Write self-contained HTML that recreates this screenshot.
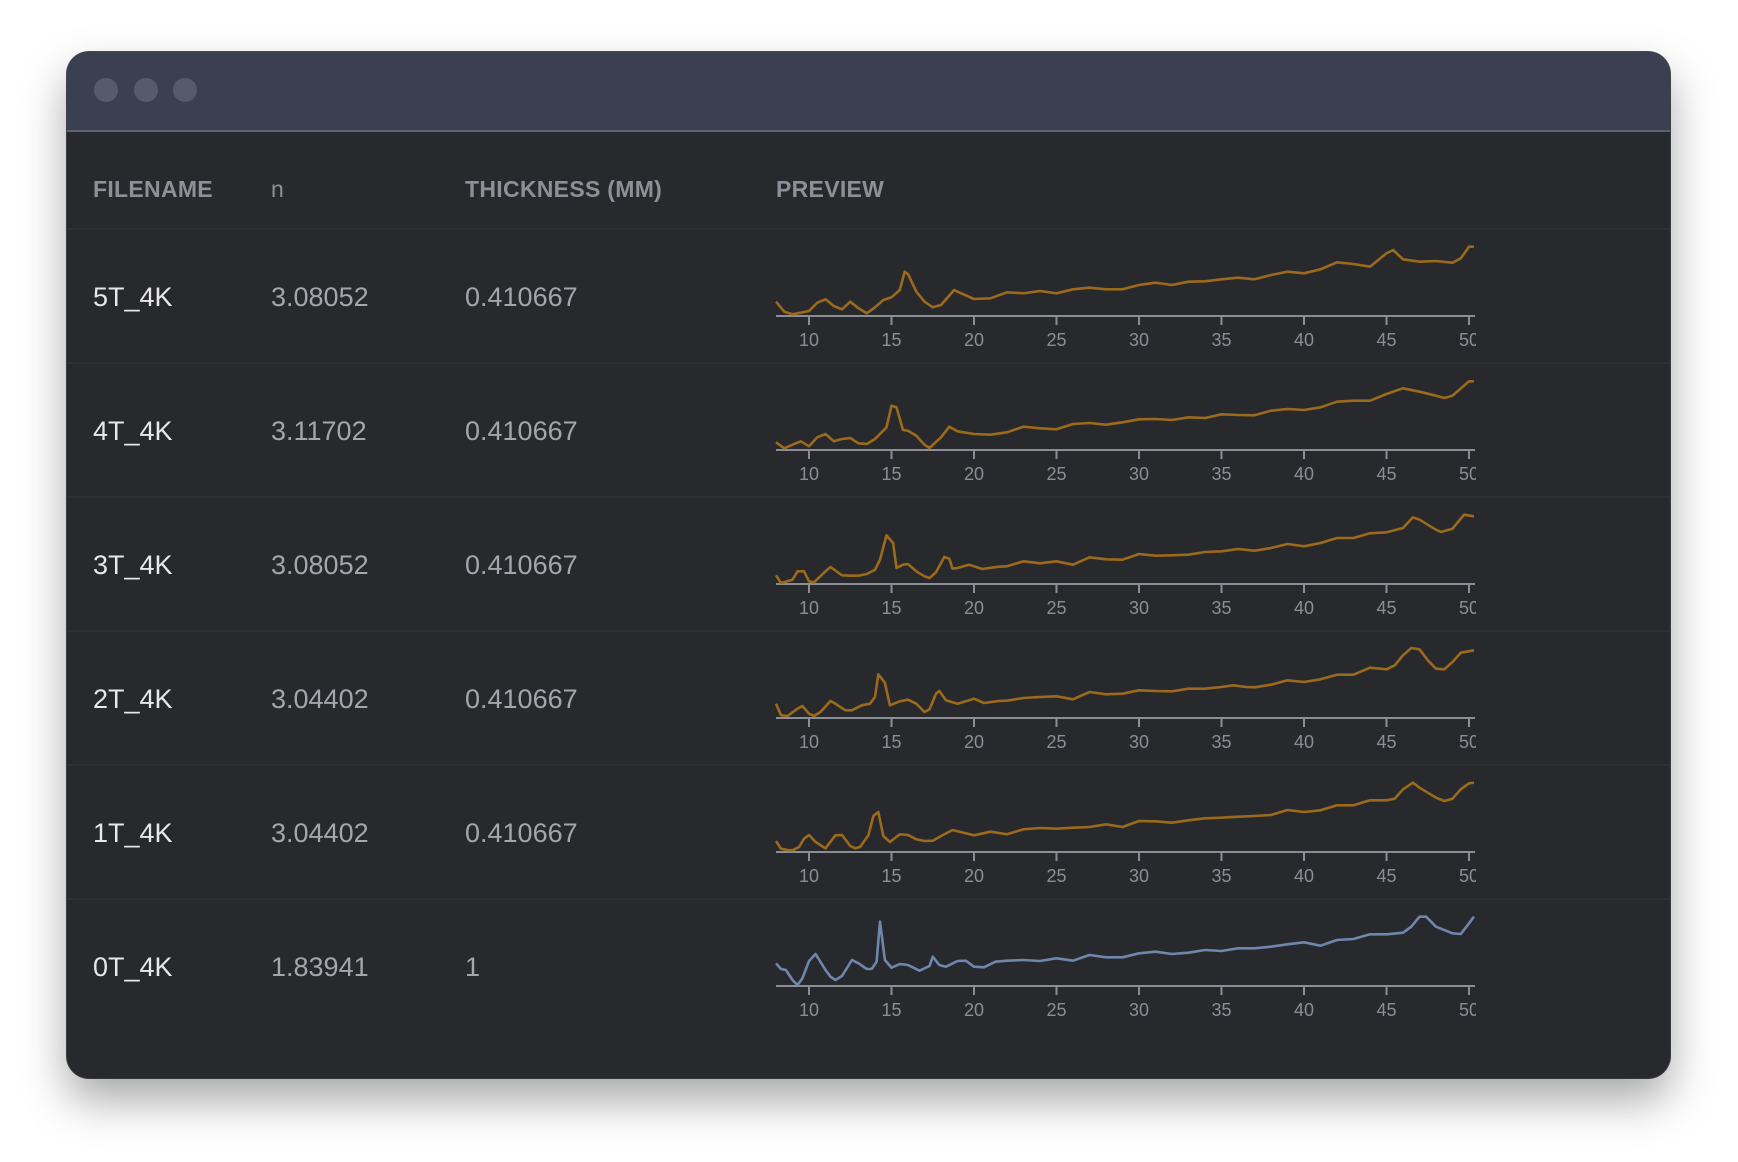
<!DOCTYPE html>
<html><head><meta charset="utf-8">
<style>
html,body{margin:0;padding:0;width:1738px;height:1162px;background:#fff;overflow:hidden;font-family:"Liberation Sans",sans-serif;}
#win{position:absolute;left:67px;top:52px;width:1603px;height:1026px;border-radius:22px;background:#28292c;box-shadow:0 22px 45px rgba(0,0,0,0.35),0 0 0 1px #4a4c52;overflow:hidden;}
#titlebar{position:absolute;left:0;top:0;width:100%;height:78px;background:#3a404f;border-bottom:2px solid #5c6272;}
.dot{position:absolute;top:26px;width:24px;height:24px;border-radius:50%;background:#555b6a;}
.hdr{position:absolute;top:175px;font-size:23px;color:#8c9099;line-height:28px;font-weight:bold;letter-spacing:0.3px;}
.cell{position:absolute;font-size:27px;line-height:32px;color:#a3a6ac;}
.fn{color:#e8e8ea;}
.sep{position:absolute;left:0;width:100%;height:2px;background:#2f3034;}
svg{position:absolute;left:0;top:0;}
</style></head><body>
<div id="win">
  <div id="titlebar">
    <div class="dot" style="left:27px"></div>
    <div class="dot" style="left:67px"></div>
    <div class="dot" style="left:106px"></div>
  </div>
</div>
<div class="hdr" style="left:93px">FILENAME</div>
<div class="hdr" style="left:271px;font-weight:normal">n</div>
<div class="hdr" style="left:465px">THICKNESS (MM)</div>
<div class="hdr" style="left:776px">PREVIEW</div>
<div id="rows"></div>
<svg id="charts" width="1738" height="1162"></svg>
<script>
const names = ["5T_4K","4T_4K","3T_4K","2T_4K","1T_4K","0T_4K"];
const nVals = ["3.08052","3.11702","3.08052","3.04402","3.04402","1.83941"];
const thick = ["0.410667","0.410667","0.410667","0.410667","0.410667","1"];
const tickLabels = [10,15,20,25,30,35,40,45,50];
// raw readings: y-pixel in zoom space (axis = 288); value = 288 - reading
const x5 = [8,8.5,9,9.5,10,10.5,11,11.5,12,12.5,13,13.5,14,14.5,15,15.5,15.8,16,16.5,17,17.5,18,18.8,19,20,21,22,23,24,25,26,27,28,29,30,31,32,33,34,35,36,37,38,39,40,41,42,43,44,45,45.4,46,47,48,49,49.5,50,50.3];
const r5 = [245,275,283,278,273,248,238,258,268,245,265,280,262,240,232,210,155,162,215,245,262,255,210,215,237,235,217,220,213,220,208,203,208,208,195,188,195,185,184,178,173,178,165,155,160,148,127,132,140,100,90,118,125,123,128,115,80,80];
const x4 = [8,8.5,9,9.5,10,10.5,11,11.5,12,12.5,13,13.5,14,14.5,14.7,15,15.3,15.7,16,16.5,17,17.3,18,18.5,19,20,21,22,23,24,25,26,27,28,29,30,31,32,33,34,35,36,37,38,39,40,41,42,43,44,45,46,47,48,48.5,49,50,50.3];
const r4 = [265,283,272,262,277,250,240,262,255,252,268,270,255,230,220,155,160,228,230,245,272,282,250,218,232,240,242,235,218,223,226,210,207,212,205,196,195,198,190,192,181,183,184,170,165,168,160,143,140,140,120,103,113,125,132,125,82,82];
const x3 = [8,8.3,9,9.3,9.7,10,10.3,11,11.3,12,12.5,13,13.5,14,14.3,14.7,15.1,15.3,15.7,16,16.5,17,17.3,17.7,18.2,18.5,18.7,19,19.7,20.5,21.5,22,23,24,25,26,27,28,29,30,31,32,33,34,35,36,37,38,39,40,41,42,43,44,45,46,46.6,47,48,48.3,49,49.7,50.3];
const r3 = [262,285,275,250,250,280,283,250,237,262,263,263,258,245,215,142,165,240,230,228,250,265,270,253,207,212,242,240,230,243,236,235,220,226,220,230,208,214,215,198,203,202,200,192,190,183,188,180,168,175,165,150,150,136,133,120,88,95,125,132,122,80,85];
const x2 = [8,8.3,8.7,9.3,9.6,10,10.3,10.7,11.3,11.6,12.2,12.6,13.2,13.7,14,14.2,14.6,14.9,15.5,16,16.5,17,17.3,17.7,17.9,18.3,19,20,20.6,21.5,22,23,24,25,26,27,28,29,30,31,32,33,34,35,35.7,36.5,37,38,39,40,41,42,43,44,45,45.5,46,46.5,47,47.5,48,48.5,49,49.5,50.3];
const r2 = [245,280,282,260,252,275,282,270,237,245,265,265,250,245,225,157,182,250,238,233,245,270,262,215,207,235,245,230,243,237,236,228,225,223,232,210,217,215,205,207,208,200,200,195,190,195,196,188,175,180,172,158,158,137,142,130,100,78,82,115,140,142,120,92,85];
const x1 = [8,8.3,8.7,9,9.4,9.7,10,10.4,11,11.6,12,12.5,12.8,13.1,13.6,13.9,14.2,14.5,14.9,15.5,16,16.5,17,17.5,18,18.7,19,20,21,22,23,24,25,26,27,28,29,30,31,32,33,34,35,36,37,38,39,40,41,42,43,44,45,45.5,46,46.6,47,48,48.5,49,49.5,50,50.3];
const r1 = [255,278,282,283,273,248,237,258,277,238,237,270,277,273,238,180,168,240,258,235,237,250,255,254,240,222,226,238,227,235,220,216,218,215,213,205,213,195,196,200,193,187,185,182,180,177,162,168,163,148,148,133,133,128,100,80,95,125,135,128,100,82,80];
const x0 = [8,8.3,8.6,9,9.3,9.6,10,10.4,11,11.3,11.6,12,12.6,13,13.5,13.8,14.1,14.3,14.6,15,15.5,16,16.7,17.3,17.5,17.9,18.3,19,19.5,20,20.6,21.3,22,23,24,25,26,27,28,29,30,31,32,33,34,35,36,37,38,39,40,41,42,43,44,45,46,46.5,47,47.4,48,49,49.5,50,50.3];
const r0 = [220,237,240,270,285,265,213,192,240,260,270,258,210,220,237,237,215,95,210,233,222,225,242,228,200,225,230,213,212,230,232,215,212,210,213,205,212,195,202,202,190,185,192,188,180,183,175,175,170,163,157,167,150,147,133,133,128,110,80,80,110,130,132,100,80];
const seriesX = [x5,x4,x3,x2,x1,x0];
const seriesR = [r5,r4,r3,r2,r1,r0];
const colors = ["#9c6a1c","#9c6a1c","#9c6a1c","#9c6a1c","#9c6a1c","#6f86ad"];

const rowsEl = document.getElementById('rows');
const svg = document.getElementById('charts');
const NS = "http://www.w3.org/2000/svg";
const ROW0 = 228, ROWH = 134;
function xs(v){ return 776 + (v - 8) * 16.5; }
function ys(v, axisY){ return axisY - v / 3; }
for (let i = 0; i < names.length; i++) {
  const top = ROW0 + ROWH * i;
  const sep = document.createElement('div');
  sep.className = 'sep';
  sep.style.cssText = 'left:67px;width:1603px;top:' + top + 'px';
  
  
  rowsEl.appendChild(sep);
  const cols = [[names[i], 93, 'cell fn', 'filename-cell'], [nVals[i], 271, 'cell', 'n-cell'], [thick[i], 465, 'cell', 'thickness-cell']];
  for (const c of cols) {
    const d = document.createElement('div');
    d.className = c[2];
    d.textContent = c[0];
    d.style.left = c[1] + 'px';
    d.style.top = (top + 53) + 'px';
    
    
    rowsEl.appendChild(d);
  }
  const axisY = top + 88;
  const g = document.createElementNS(NS, 'g');
  
  
  const ax = document.createElementNS(NS, 'line');
  ax.setAttribute('x1', 776); ax.setAttribute('x2', 1475);
  ax.setAttribute('y1', axisY); ax.setAttribute('y2', axisY);
  ax.setAttribute('stroke', '#8a8e97'); ax.setAttribute('stroke-width', 2);
  
  
  g.appendChild(ax);
  for (const t of tickLabels) {
    const tl = document.createElementNS(NS, 'line');
    tl.setAttribute('x1', xs(t)); tl.setAttribute('x2', xs(t));
    tl.setAttribute('y1', axisY); tl.setAttribute('y2', axisY + 9);
    tl.setAttribute('stroke', '#8a8e97'); tl.setAttribute('stroke-width', 2);
    
    
    g.appendChild(tl);
    const tx = document.createElementNS(NS, 'text');
    tx.setAttribute('x', xs(t)); tx.setAttribute('y', axisY + 30);
    tx.setAttribute('text-anchor', 'middle');
    tx.setAttribute('font-size', '18');
    tx.setAttribute('fill', '#8a8e97');
    tx.setAttribute('font-family', 'Liberation Sans, sans-serif');
    tx.textContent = t;
    
    
    g.appendChild(tx);
  }
  const X = seriesX[i], R = seriesR[i];
  let d = '';
  for (let k = 0; k < X.length; k++) {
    d += (k ? 'L' : 'M') + xs(X[k]).toFixed(1) + ',' + ys(288 - R[k], axisY).toFixed(1);
  }
  const p = document.createElementNS(NS, 'path');
  p.setAttribute('d', d);
  p.setAttribute('fill', 'none');
  p.setAttribute('stroke', colors[i]);
  p.setAttribute('stroke-width', 2.6);
  p.setAttribute('stroke-linejoin', 'round');
  
  
  g.appendChild(p);
  const clip = document.createElementNS(NS, 'rect');
  clip.setAttribute('x', 1476); clip.setAttribute('y', top + 2);
  clip.setAttribute('width', 40); clip.setAttribute('height', 120);
  clip.setAttribute('fill', '#28292c');
  
  
  g.appendChild(clip);
  svg.appendChild(g);
}
</script>
</body></html>
